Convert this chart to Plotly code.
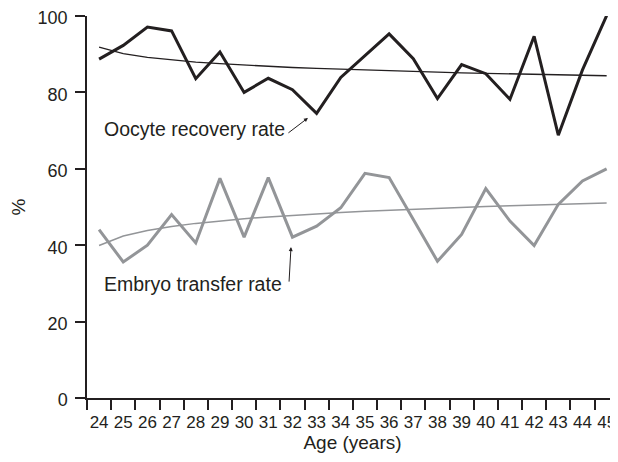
import numpy as np
import plotly.graph_objects as go

ages = list(range(24, 46))
oocyte_recovery = [88.7, 92.3, 97.1, 96.1, 83.6, 90.6, 80.0, 83.7, 80.7, 74.5, 83.9,
                   89.6, 95.3, 88.8, 78.4, 87.3, 84.9, 78.2, 94.7, 68.8, 85.9, 100.1]
embryo_transfer = [44.1, 35.6, 40.0, 48.0, 40.6, 57.5, 42.1, 57.7, 42.1, 45.0, 49.8,
                   58.8, 57.7, 46.7, 35.8, 42.8, 54.8, 46.3, 39.9, 50.7, 56.8, 60.0]
y_ticks = [0, 20, 40, 60, 80, 100]

# logarithmic trend lines (least-squares fit on ln of the point index)
idx = np.arange(1, len(ages) + 1)
def log_trend(vals):
    b, a = np.polyfit(np.log(idx), np.array(vals), 1)
    return a + b * np.log(idx)

FONT = "Liberation Sans, Arial, Helvetica, sans-serif"
DARK = "#231f20"
GRAY = "#939598"

fig = go.Figure()
fig.add_trace(go.Scatter(x=ages, y=log_trend(oocyte_recovery), mode="lines",
                         line=dict(color=DARK, width=1.3), hoverinfo="skip",
                         cliponaxis=False))
fig.add_trace(go.Scatter(x=ages, y=log_trend(embryo_transfer), mode="lines",
                         line=dict(color=GRAY, width=1.5), hoverinfo="skip",
                         cliponaxis=False))
fig.add_trace(go.Scatter(x=ages, y=oocyte_recovery, mode="lines",
                         line=dict(color=DARK, width=3), cliponaxis=False))
fig.add_trace(go.Scatter(x=ages, y=embryo_transfer, mode="lines",
                         line=dict(color=GRAY, width=3), cliponaxis=False))

# the page body has an 8px default margin, so the figure is sized to fit inside
fig.update_layout(
    width=610, height=446,
    margin=dict(l=79, r=0, t=8, b=56),
    paper_bgcolor="white", plot_bgcolor="white",
    showlegend=False,
    font=dict(family=FONT, color=DARK, size=17),
    xaxis=dict(
        range=[23.5, 45.47], tickvals=ages, ticktext=[str(a) for a in ages],
        ticks="", showgrid=False, zeroline=False, automargin=False,
        showline=True, linecolor=DARK, linewidth=1.5,
        tickfont=dict(size=17), ticklabelstandoff=8, ticklabeloverflow="allow",
        minor=dict(tick0=23.5, dtick=1, ticks="outside", ticklen=10,
                   tickcolor=DARK, tickwidth=1.5, showgrid=False),
        title=dict(text="Age (years)", font=dict(size=19), standoff=4),
    ),
    yaxis=dict(
        range=[0, 100], tickvals=y_ticks, ticks="outside", ticklen=10,
        tickcolor=DARK, tickwidth=1.5, showgrid=False, zeroline=False,
        automargin=False,
        showline=True, linecolor=DARK, linewidth=1.5,
        tickfont=dict(size=18), ticklabelstandoff=4, ticklabeloverflow="allow",
        ticklabelshift=2,
        title=dict(text="%", font=dict(size=19), standoff=10),
    ),
    annotations=[
        dict(x=24.12, y=70.4, xref="x", yref="y", text="Oocyte recovery rate",
             showarrow=False, xanchor="left", yanchor="middle",
             font=dict(size=19.5, color=DARK)),
        dict(x=32.64, y=73.3, xref="x", yref="y", text="", showarrow=True,
             ax=-21, ay=16, arrowhead=2, arrowsize=0.8, arrowwidth=1,
             arrowcolor=DARK),
        dict(x=24.12, y=29.8, xref="x", yref="y", text="Embryo transfer rate",
             showarrow=False, xanchor="left", yanchor="middle",
             font=dict(size=19.5, color=DARK)),
        dict(x=31.94, y=39.5, xref="x", yref="y", text="", showarrow=True,
             ax=-2, ay=36, arrowhead=2, arrowsize=0.8, arrowwidth=1,
             arrowcolor=DARK),
    ],
)

fig.write_html("out.html")
